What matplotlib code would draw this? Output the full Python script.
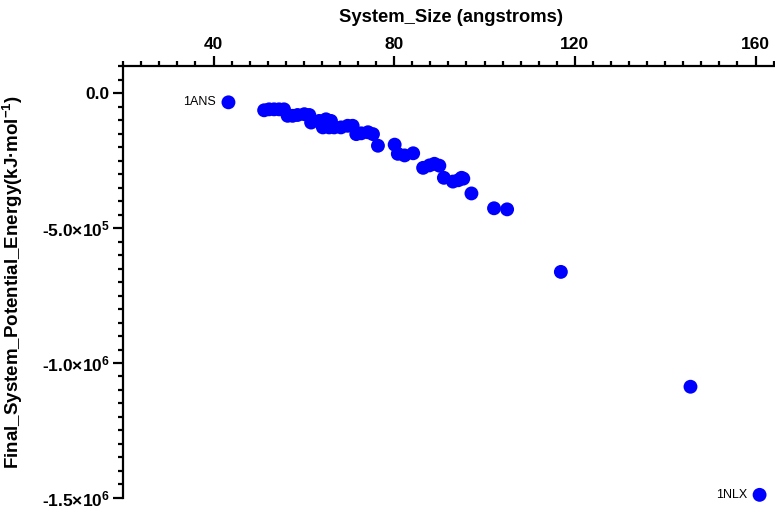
import numpy as np
import matplotlib
matplotlib.use("Agg")
import matplotlib.pyplot as plt
from matplotlib.ticker import MultipleLocator, FixedLocator, FuncFormatter

plt.rcParams['font.family'] = ['Liberation Sans', 'DejaVu Sans']
plt.rcParams['mathtext.fontset'] = 'custom'
plt.rcParams['mathtext.rm'] = 'Liberation Sans:bold'
plt.rcParams['mathtext.it'] = 'Liberation Sans:bold'
plt.rcParams['mathtext.bf'] = 'Liberation Sans:bold'

# system size (angstroms) and final potential energy (kJ/mol)
system_size = [43.3, 51.2, 52.3, 53.4, 54.5, 55.6, 56.4, 57.5, 58.6, 60.1,
               61.2, 61.6, 63.4, 64.9, 66.0, 64.2, 65.6, 66.7, 68.2, 69.7,
               70.8, 71.6, 72.7, 74.2, 75.3, 76.4, 80.1, 80.8, 82.3, 84.2,
               86.4, 87.8, 88.9, 90.0, 91.0, 93.0, 94.2, 94.9, 95.3, 97.1,
               102.1, 105.0, 116.9, 145.6, 160.9]
energy = [-3.3e4, -6.25e4, -5.9e4, -5.9e4, -5.9e4, -5.9e4, -8.3e4, -8.3e4, -8.0e4, -7.7e4,
          -8.0e4, -1.08e5, -1.02e5, -9.6e4, -1.02e5, -1.26e5, -1.26e5, -1.26e5, -1.26e5, -1.20e5,
          -1.20e5, -1.51e5, -1.48e5, -1.44e5, -1.51e5, -1.94e5, -1.90e5, -2.24e5, -2.30e5, -2.22e5,
          -2.76e5, -2.67e5, -2.61e5, -2.68e5, -3.13e5, -3.27e5, -3.22e5, -3.13e5, -3.16e5, -3.71e5,
          -4.26e5, -4.30e5, -6.62e5, -1.088e6, -1.489e6]
labelled = {"1ANS": 0, "1NLX": len(system_size) - 1}

fig = plt.figure(figsize=(7.75, 5.09), dpi=100)
ax = fig.add_axes([0.159, 0.022, 0.845, 0.849])

ax.scatter(system_size, energy, s=100, color="#0000ff", edgecolors="none", zorder=3, clip_on=False)

for name, i in labelled.items():
    ax.annotate(name, (system_size[i], energy[i]), xytext=(-9, 0), textcoords="offset points",
                ha="right", va="center", fontsize=9)

ax.set_xlim(20, 165)
ax.set_ylim(-1.5e6, 1.03e5)

ax.spines['right'].set_visible(False)
ax.spines['bottom'].set_visible(False)
ax.spines['top'].set_linewidth(1.6)
ax.spines['left'].set_linewidth(1.6)

ax.xaxis.tick_top()
ax.xaxis.set_label_position('top')
ax.xaxis.set_major_locator(FixedLocator([40, 80, 120, 160]))
ax.xaxis.set_minor_locator(MultipleLocator(4))
ax.yaxis.set_major_locator(MultipleLocator(5e5))
ax.yaxis.set_minor_locator(MultipleLocator(5e4))


def fmt_y(v, pos):
    if v == 0:
        return "0.0"
    exp = int(np.floor(np.log10(abs(v))))
    mant = v / 10 ** exp
    return "%.1f×10$^{%d}$" % (mant, exp)


ax.yaxis.set_major_formatter(FuncFormatter(fmt_y))

ax.tick_params(axis='both', which='major', direction='out', length=7.2, width=1.6,
               labelsize=12.5, pad=2.5)
ax.tick_params(axis='both', which='minor', direction='out', length=3.8, width=1.6)
for lab in ax.get_xticklabels() + ax.get_yticklabels():
    lab.set_fontweight('bold')

ax.set_xlabel("System_Size (angstroms)", fontsize=13.2, fontweight='bold', labelpad=11)
ax.set_ylabel("Final_System_Potential_Energy(kJ·mol$^{-1}$)", fontsize=13.5,
              fontweight='bold', labelpad=12)

fig.savefig("out.png", dpi=100)
